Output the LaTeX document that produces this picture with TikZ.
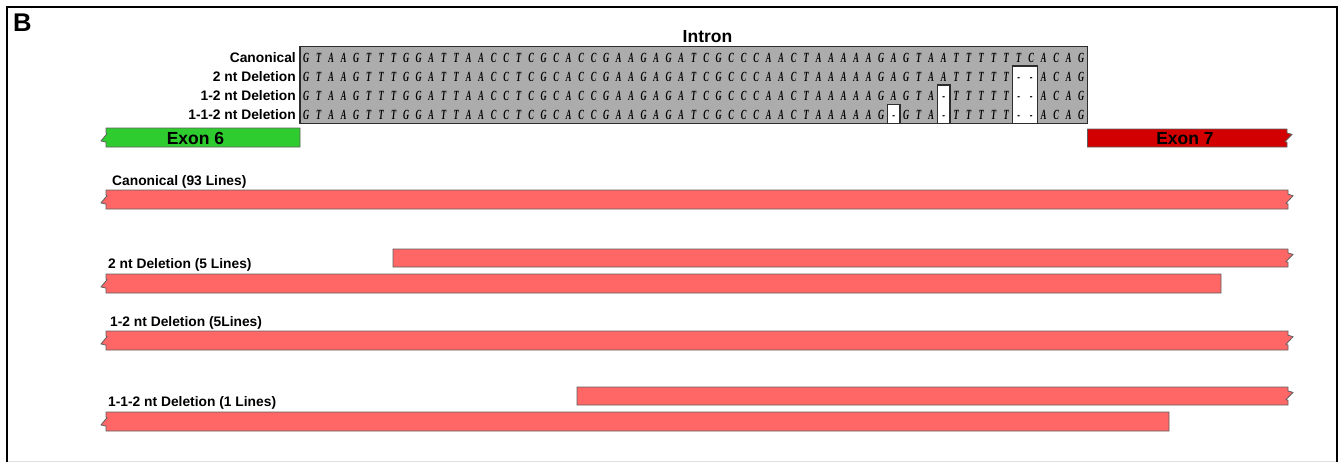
\documentclass[tikz,border=0pt]{standalone}
\usepackage{fontspec}
\setmainfont{Liberation Sans}
\newfontfamily\seqfont[FakeStretch=0.6]{Liberation Serif}
\definecolor{seqgray}{RGB}{172,172,172}
\definecolor{boxline}{RGB}{45,45,45}
\definecolor{exongreen}{RGB}{46,204,46}
\definecolor{exonred}{RGB}{210,0,0}
\definecolor{readred}{RGB}{255,102,102}
\definecolor{barline}{RGB}{95,95,95}

% bar with optional torn ends: #1 style, #2 left, #3 right, #4 top, #5 bottom,
% #6 left tear (0/1), #7 right tear (0/1)
\newcommand{\tornbar}[7]{%
  \draw[#1] (#2,#4) -- (#3,#4)
    -- (#3,{#4+0.22*(#5-#4)})
    -- ({#3+5*#7},{#4+0.30*(#5-#4)})
    -- ({#3-2*#7},{#4+0.70*(#5-#4)})
    -- (#3,{#4+0.74*(#5-#4)})
    -- (#3,#5) -- (#2,#5)
    -- (#2,{#4+0.74*(#5-#4)})
    -- ({#2-5*#6},{#4+0.68*(#5-#4)})
    -- ({#2+1*#6},{#4+0.30*(#5-#4)})
    -- (#2,{#4+0.26*(#5-#4)}) -- cycle;}

\begin{document}
\begin{tikzpicture}[x=1pt,y=-1pt,
  lbl/.style={font=\bfseries\fontsize{13.8}{16}\selectfont, inner sep=0pt},
  nuc/.style={font=\seqfont\bfseries\itshape\fontsize{14}{16}\selectfont, inner sep=0pt, anchor=base},
  seqbox/.style={fill=seqgray, draw=boxline, line width=1.5pt},
  gapbox/.style={fill=white, draw=boxline, line width=1.3pt},
  headlbl/.style={font=\bfseries\fontsize{17.5}{20}\selectfont, inner sep=0pt, anchor=base},
  exon6/.style={fill=exongreen, draw=barline, line width=0.8pt},
  exon7/.style={fill=exonred, draw=barline, line width=0.8pt},
  readbar/.style={fill=readred, draw=barline, line width=0.8pt}]
\useasboundingbox (0,0) rectangle (1342,464);

% panel frame
\draw[gray!25, line width=1pt] (7,461) -- (1337,461);
\draw[line width=2.5pt] (7,462) -- (7,7) -- (1337,7) -- (1337,462);
\node[lbl, anchor=base west] (panel) at (13,31.5) {\fontsize{25.6}{28}\selectfont B};

% intron alignment block
\node[headlbl] (intron) at (707.5,42.5) {Intron};
\draw[seqbox] (300,46.7) rectangle (1087.5,123.5);
\draw[gapbox] (1012.5,65.9) rectangle (1037.5,123.5);
\draw[gapbox] (937.5,85.1) rectangle (950,123.5);
\draw[gapbox] (887.5,104.3) rectangle (900,123.5);

\node[lbl, anchor=base east] (l1) at (296,62) {Canonical};
\node[lbl, anchor=base east] (l2) at (296,81.2) {2 nt Deletion};
\node[lbl, anchor=base east] (l3) at (296,100.4) {1-2 nt Deletion};
\node[lbl, anchor=base east] (l4) at (296,119.6) {1-1-2 nt Deletion};

\def\rowA{G,T,A,A,G,T,T,T,G,G,A,T,T,A,A,C,C,T,C,G,C,A,C,C,G,A,A,G,A,G,A,T,C,G,C,C,C,A,A,C,T,A,A,A,A,A,G,A,G,T,A,A,T,T,T,T,T,T,C,A,C,A,G}
\def\rowB{G,T,A,A,G,T,T,T,G,G,A,T,T,A,A,C,C,T,C,G,C,A,C,C,G,A,A,G,A,G,A,T,C,G,C,C,C,A,A,C,T,A,A,A,A,A,G,A,G,T,A,A,T,T,T,T,T,-,-,A,C,A,G}
\def\rowC{G,T,A,A,G,T,T,T,G,G,A,T,T,A,A,C,C,T,C,G,C,A,C,C,G,A,A,G,A,G,A,T,C,G,C,C,C,A,A,C,T,A,A,A,A,A,G,A,G,T,A,-,T,T,T,T,T,-,-,A,C,A,G}
\def\rowD{G,T,A,A,G,T,T,T,G,G,A,T,T,A,A,C,C,T,C,G,C,A,C,C,G,A,A,G,A,G,A,T,C,G,C,C,C,A,A,C,T,A,A,A,A,A,G,-,G,T,A,-,T,T,T,T,T,-,-,A,C,A,G}
\foreach \c [count=\i from 0] in \rowA {\node[nuc] (a\i) at ({300+12.5*(\i+0.5)},62) {\c};}
\foreach \c [count=\i from 0] in \rowB {\node[nuc] (b\i) at ({300+12.5*(\i+0.5)},81.2) {\c};}
\foreach \c [count=\i from 0] in \rowC {\node[nuc] (c\i) at ({300+12.5*(\i+0.5)},100.4) {\c};}
\foreach \c [count=\i from 0] in \rowD {\node[nuc] (d\i) at ({300+12.5*(\i+0.5)},119.6) {\c};}

% exons
\tornbar{exon6}{106}{300}{128}{147}{1}{0}
\tornbar{exon7}{1087.5}{1287}{129}{147}{0}{1}
\node[headlbl] (ex6) at (195.5,144.5) {Exon 6};
\node[headlbl] (ex7) at (1185,144.5) {Exon 7};

% aligned reads
\node[lbl, anchor=base west] (r1) at (112,185) {Canonical (93 Lines)};
\tornbar{readbar}{106}{1288}{190}{209}{1}{1}

\node[lbl, anchor=base west] (r2) at (108,268) {2 nt Deletion (5 Lines)};
\tornbar{readbar}{393}{1288}{249}{267}{0}{1}
\tornbar{readbar}{106}{1221}{274}{293}{1}{0}

\node[lbl, anchor=base west] (r3) at (110,326) {1-2 nt Deletion (5Lines)};
\tornbar{readbar}{106}{1288}{331}{350}{1}{1}

\node[lbl, anchor=base west] (r4) at (108,406) {1-1-2 nt Deletion (1 Lines)};
\tornbar{readbar}{577}{1288}{387}{405}{0}{1}
\tornbar{readbar}{106}{1169}{412}{431}{1}{0}
\end{tikzpicture}
\end{document}
